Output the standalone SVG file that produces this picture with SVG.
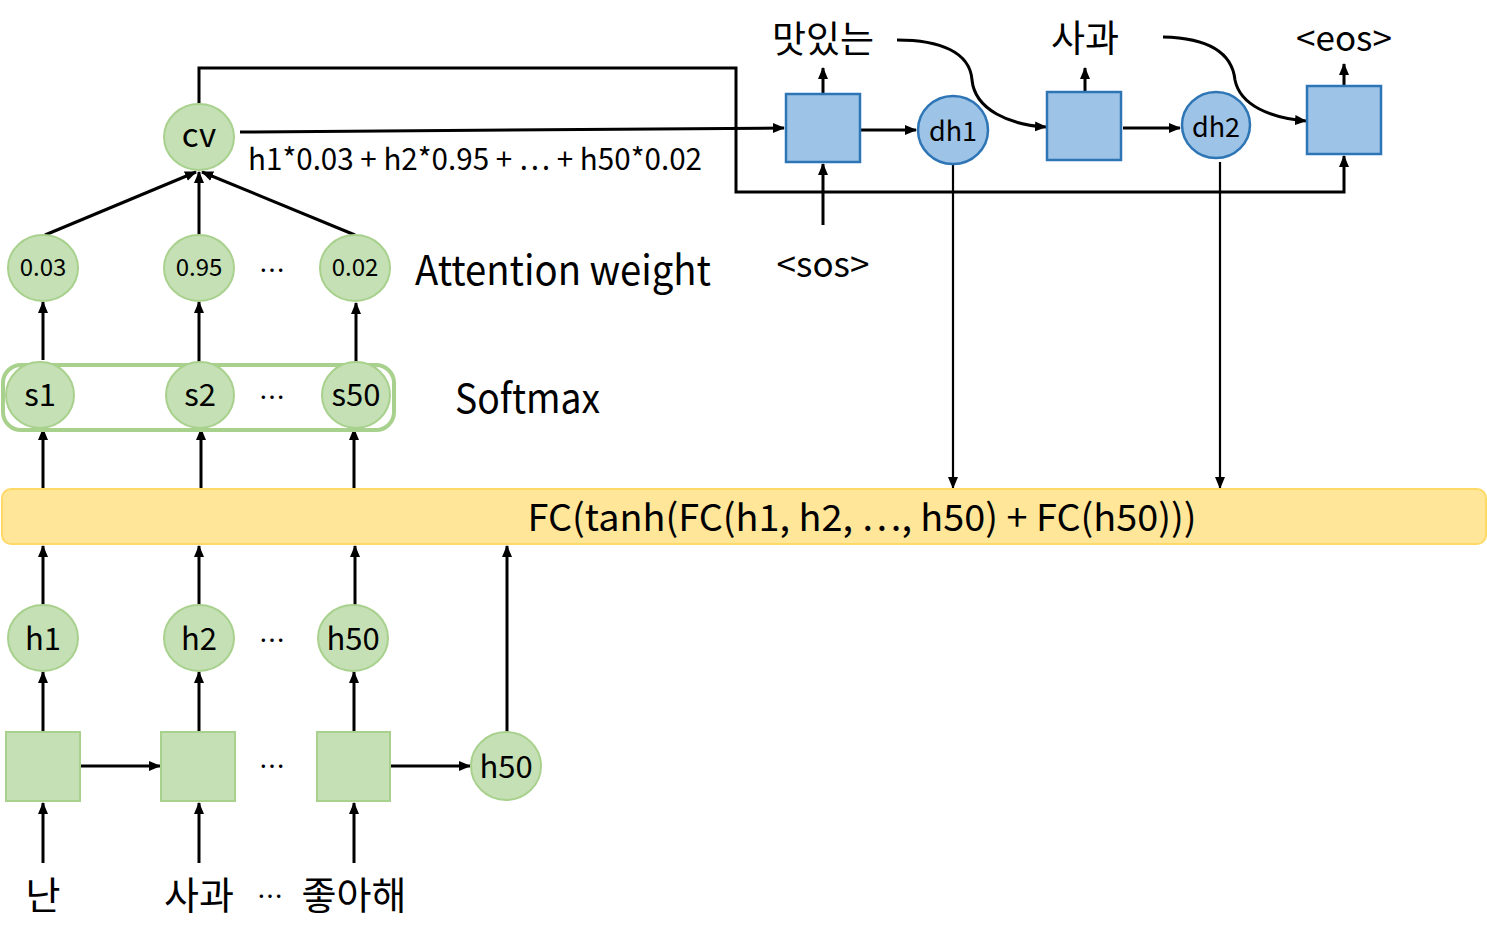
<svg xmlns="http://www.w3.org/2000/svg" width="1487" height="940" viewBox="0 0 1487 940">
<defs>
<marker id="ah" markerUnits="userSpaceOnUse" markerWidth="12" markerHeight="12" viewBox="0 0 12 12" refX="11" refY="6" orient="auto">
<path d="M0,1 L12,6 L0,11 Z" fill="#000"/>
</marker>
<style>
.t{font-family:"Noto Sans CJK KR","Noto Sans",sans-serif;fill:#000;text-anchor:middle;dominant-baseline:central}
.ts{text-anchor:start}
.g{fill:#c5e0b4;stroke:#a9d18e;stroke-width:2}
.b{fill:#9dc3e6;stroke:#2e75b6;stroke-width:2.5}
.c{stroke:#000;stroke-width:3;fill:none;marker-end:url(#ah)}
.c2{stroke:#000;stroke-width:2.2;fill:none;marker-end:url(#ah)}
</style>
</defs>
<rect width="1487" height="940" fill="#fff"/>

<g id="connectors">
<path class="c" d="M43,863 V803"/>
<path class="c" d="M199,863 V803"/>
<path class="c" d="M354,863 V803"/>
<path class="c" d="M80,766 H160"/>
<path class="c" d="M390,766 H470"/>
<path class="c" d="M43,731 V672"/>
<path class="c" d="M199,731 V672"/>
<path class="c" d="M354,731 V672"/>
<path class="c" d="M43,605 V546"/>
<path class="c" d="M199,605 V546"/>
<path class="c" d="M355,605 V546"/>
<path class="c" d="M507,733 V546"/>
<path class="c" d="M43,488 V429"/>
<path class="c" d="M201,488 V429"/>
<path class="c" d="M354,488 V429"/>
<path class="c" d="M43,360 V302"/>
<path class="c" d="M199,362 V302"/>
<path class="c" d="M356,362 V303"/>
<path class="c" d="M45,235 L196,172"/>
<path class="c" d="M199,235 V172"/>
<path class="c" d="M355,235 L202,172"/>
<path class="c" d="M240,132 L784,128"/>
<path class="c" d="M199,104 V68 H736 V192 H1344 V156"/>
<path class="c" d="M860,130 H916"/>
<path class="c" d="M1123,128 H1180"/>
<path class="c" d="M823,225 V164"/>
<path class="c" d="M823,94 V68"/>
<path class="c" d="M1085,92 V68"/>
<path class="c" d="M1344,86 V64"/>
<path class="c2" d="M953,165 V488"/>
<path class="c2" d="M1220,162 V488"/>
<path class="c" d="M897,40 C940,40 970,52 972,80 C975,110 1010,125 1046,127"/>
<path class="c" d="M1163,37 C1208,38 1232,52 1235,80 C1240,105 1270,118 1306,121"/>
</g>

<g id="fc">
<rect x="2" y="489" width="1484" height="55" rx="9" fill="#ffe699" stroke="#ffd966" stroke-width="2"/>
<text class="t" x="862" y="515" font-size="37" textLength="669" lengthAdjust="spacingAndGlyphs">FC(tanh(FC(h1, h2, ⋯, h50) + FC(h50)))</text>
</g>

<g id="enc1"><rect class="g" x="6" y="732" width="74" height="69"/></g>
<g id="enc2"><rect class="g" x="161" y="732" width="74" height="69"/></g>
<g id="enc3"><rect class="g" x="317" y="732" width="73" height="69"/></g>
<text class="t" x="272" y="764" font-size="26">⋯</text>
<g id="h50out"><ellipse class="g" cx="506" cy="766" rx="35" ry="34"/><text class="t" x="506" y="764" font-size="31">h50</text></g>

<g id="h1"><ellipse class="g" cx="43" cy="638" rx="35" ry="33"/><text class="t" x="43" y="636" font-size="31">h1</text></g>
<g id="h2"><ellipse class="g" cx="199" cy="638" rx="35" ry="33"/><text class="t" x="199" y="636" font-size="31">h2</text></g>
<g id="h50"><ellipse class="g" cx="353" cy="638" rx="35" ry="33"/><text class="t" x="353" y="636" font-size="31">h50</text></g>
<text class="t" x="272" y="638" font-size="26">⋯</text>

<g id="softmax">
<rect x="3" y="365" width="391" height="65" rx="18" fill="none" stroke="#a9d18e" stroke-width="4"/>
<ellipse class="g" cx="40" cy="395" rx="34" ry="33"/><text class="t" x="40" y="392" font-size="31">s1</text>
<ellipse class="g" cx="200" cy="395" rx="34" ry="33"/><text class="t" x="200" y="392" font-size="31">s2</text>
<ellipse class="g" cx="356" cy="395" rx="34" ry="33"/><text class="t" x="356" y="392" font-size="31">s50</text>
<text class="t" x="272" y="395" font-size="26">⋯</text>
<text class="t ts" x="455" y="396" font-size="40" textLength="145" lengthAdjust="spacingAndGlyphs">Softmax</text>
</g>

<g id="w1"><ellipse class="g" cx="43" cy="268" rx="35" ry="33"/><text class="t" x="43" y="265" font-size="24">0.03</text></g>
<g id="w2"><ellipse class="g" cx="199" cy="268" rx="35" ry="33"/><text class="t" x="199" y="265" font-size="24">0.95</text></g>
<g id="w50"><ellipse class="g" cx="355" cy="268" rx="35" ry="33"/><text class="t" x="355" y="265" font-size="24">0.02</text></g>
<text class="t" x="272" y="268" font-size="26">⋯</text>
<text class="t ts" x="415" y="267" font-size="41" textLength="296" lengthAdjust="spacingAndGlyphs">Attention weight</text>

<g id="cv"><ellipse class="g" cx="199" cy="137" rx="35" ry="33"/><text class="t" x="199" y="133" font-size="33">cv</text></g>
<text class="t ts" x="248" y="157" font-size="30" textLength="454" lengthAdjust="spacingAndGlyphs">h1*0.03 + h2*0.95 + ⋯ + h50*0.02</text>

<g id="dec1"><rect class="b" x="786" y="94" width="74" height="68"/></g>
<g id="dh1"><ellipse class="b" cx="953" cy="130" rx="35" ry="34"/><text class="t" x="953" y="129" font-size="27">dh1</text></g>
<g id="dec2"><rect class="b" x="1047" y="92" width="74" height="68"/></g>
<g id="dh2"><ellipse class="b" cx="1216" cy="125" rx="34" ry="33"/><text class="t" x="1216" y="125" font-size="27">dh2</text></g>
<g id="dec3"><rect class="b" x="1307" y="86" width="74" height="68"/></g>

<text class="t" x="823" y="37" font-size="37">맛있는</text>
<text class="t" x="1085" y="36" font-size="37">사과</text>
<text class="t" x="1344" y="35" font-size="35">&lt;eos&gt;</text>
<text class="t" x="823" y="261" font-size="35">&lt;sos&gt;</text>

<g id="inputs">
<text class="t" x="43" y="892" font-size="38">난</text>
<text class="t" x="199" y="892" font-size="38">사과</text>
<text class="t" x="270" y="894" font-size="26">⋯</text>
<text class="t" x="354" y="892" font-size="38">좋아해</text>
</g>
</svg>
